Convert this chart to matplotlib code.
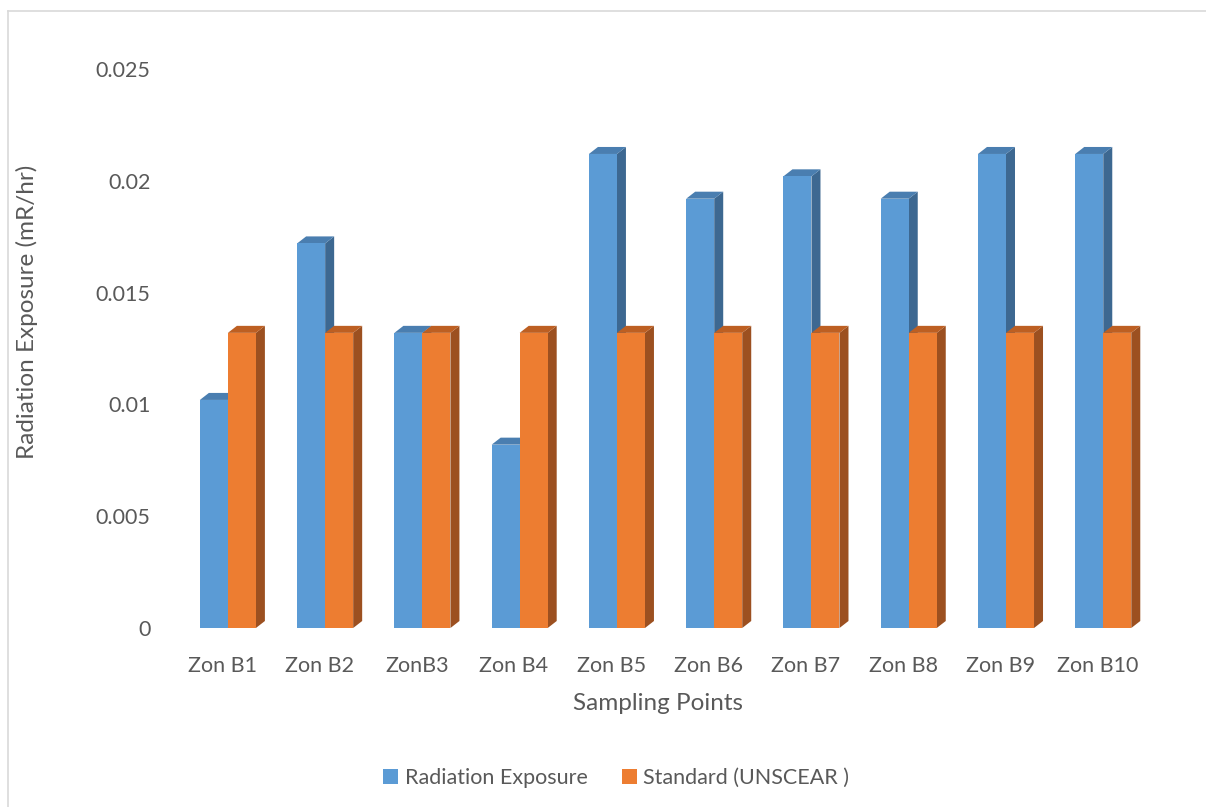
import numpy as np
import matplotlib
matplotlib.use("Agg")
import matplotlib.pyplot as plt
from matplotlib.patches import Polygon, Rectangle
from matplotlib.lines import Line2D

plt.rcParams['font.family'] = ['Lato', 'DejaVu Sans']

zones = ['Zon B1', 'Zon B2', 'ZonB3', 'Zon B4', 'Zon B5',
         'Zon B6', 'Zon B7', 'Zon B8', 'Zon B9', 'Zon B10']
exposure = [0.0102, 0.0172, 0.0132, 0.0082, 0.0212,
            0.0192, 0.0202, 0.0192, 0.0212, 0.0212]
standard = [0.0132] * 10

front = {'exp': '#5b9bd5', 'std': '#ed7d31'}
top = {'exp': '#4a7eb0', 'std': '#bd5f22'}
side = {'exp': '#3d6891', 'std': '#9c5020'}
text_col = '#595959'

fig = plt.figure(figsize=(12.06, 8.07), dpi=100)
ax = fig.add_axes([0.1488, 0.2218, 0.8065, 0.6927])
ax.set_xlim(-0.5, 9.5)
ax.set_ylim(0, 0.025)

# depth of the fake 3d bars, in pixels -> data units
fig_w, fig_h = fig.get_size_inches() * fig.dpi
pos = ax.get_position()
dx = 9 / (pos.width * fig_w / 10)
dy = 7 / (pos.height * fig_h / 0.025)

w = 0.288
x = np.arange(len(zones))


def bar3d(xc, h, key, z):
    x0, x1 = xc - w / 2, xc + w / 2
    ax.add_patch(Polygon([(x1, 0), (x1 + dx, dy), (x1 + dx, h + dy), (x1, h)],
                         closed=True, facecolor=side[key], edgecolor='none', zorder=z))
    ax.add_patch(Polygon([(x0, h), (x0 + dx, h + dy), (x1 + dx, h + dy), (x1, h)],
                         closed=True, facecolor=top[key], edgecolor='none', zorder=z))
    ax.add_patch(Rectangle((x0, 0), w, h, facecolor=front[key], edgecolor='none', zorder=z + 0.5))


for i in range(len(zones)):
    bar3d(x[i] - 0.146, exposure[i], 'exp', 2)
    bar3d(x[i] + 0.142, standard[i], 'std', 3)

for s in ax.spines.values():
    s.set_visible(False)
ax.set_xticks(x - 0.06)
ax.set_xticklabels(zones)
ax.set_yticks([0, 0.005, 0.01, 0.015, 0.02, 0.025])
ax.set_yticklabels(['0', '0.005', '0.01', '0.015', '0.02', '0.025'])
ax.tick_params(axis='both', length=0, labelsize=15.5, labelcolor=text_col)
ax.tick_params(axis='x', pad=20)
ax.tick_params(axis='y', pad=21)

fig.text(0.546, 1 - 704 / 807, 'Sampling Points', ha='center', va='center',
         fontsize=17.5, color=text_col)
fig.text(27 / 1206, 1 - 312 / 807, 'Radiation Exposure (mR/hr)', ha='center', va='center',
         rotation=90, fontsize=17.5, color=text_col)

handles = [Rectangle((0, 0), 1, 1, facecolor=front['exp']),
           Rectangle((0, 0), 1, 1, facecolor=front['std'])]
fig.legend(handles, ['Radiation Exposure', 'Standard (UNSCEAR )'], loc='center',
           bbox_to_anchor=(0.511, 1 - 778 / 807), ncol=2, frameon=False,
           fontsize=15.5, labelcolor=text_col, handlelength=0.7, handleheight=0.7,
           handletextpad=0.3, columnspacing=1.6)

# light outer frame on the left and top
fig.add_artist(Line2D([8 / 1206, 8 / 1206], [0, 1 - 11 / 807], color='#d9d9d9', lw=1.2))
fig.add_artist(Line2D([8 / 1206, 1], [1 - 11 / 807, 1 - 11 / 807], color='#d9d9d9', lw=1.2))

fig.savefig('out.png', dpi=100)
